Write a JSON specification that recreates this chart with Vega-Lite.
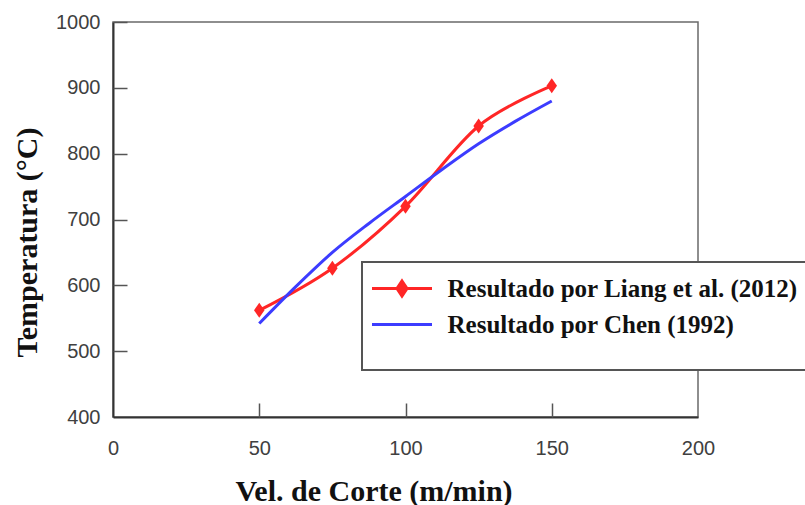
{
  "$schema": "https://vega.github.io/schema/vega-lite/v6.json",
  "width": 585,
  "height": 395,
  "autosize": {"type": "none"},
  "padding": {"left": 113, "top": 22, "right": 107, "bottom": 88},
  "background": "white",
  "config": {"view": {"stroke": "#6a6a6a", "strokeWidth": 1.5}},
  "data": {
    "values": [
      {"vel": 50, "temp": 562, "serie": "Resultado por Liang et al. (2012)"},
      {"vel": 75, "temp": 626, "serie": "Resultado por Liang et al. (2012)"},
      {"vel": 100, "temp": 720, "serie": "Resultado por Liang et al. (2012)"},
      {"vel": 125, "temp": 842, "serie": "Resultado por Liang et al. (2012)"},
      {"vel": 150, "temp": 903, "serie": "Resultado por Liang et al. (2012)"},
      {"vel": 50, "temp": 542, "serie": "Resultado por Chen (1992)"},
      {"vel": 62.5, "temp": 598, "serie": "Resultado por Chen (1992)"},
      {"vel": 75, "temp": 650, "serie": "Resultado por Chen (1992)"},
      {"vel": 87.5, "temp": 694, "serie": "Resultado por Chen (1992)"},
      {"vel": 100, "temp": 735, "serie": "Resultado por Chen (1992)"},
      {"vel": 112.5, "temp": 776, "serie": "Resultado por Chen (1992)"},
      {"vel": 125, "temp": 815, "serie": "Resultado por Chen (1992)"},
      {"vel": 137.5, "temp": 849, "serie": "Resultado por Chen (1992)"},
      {"vel": 150, "temp": 880, "serie": "Resultado por Chen (1992)"}
    ]
  },
  "resolve": {"axis": {"x": "independent", "y": "independent"}},
  "layer": [
    {
      "mark": {"type": "line", "interpolate": "cardinal", "strokeWidth": 3},
      "encoding": {
        "x": {
          "field": "vel",
          "type": "quantitative",
          "scale": {"domain": [0, 200], "nice": false},
          "axis": {
            "orient": "bottom",
            "values": [0, 50, 100, 150, 200],
            "format": "d",
            "grid": false,
            "ticks": false,
            "domainColor": "#333",
            "domainWidth": 2,
            "labelFont": "Liberation Sans",
            "labelFontSize": 20,
            "labelColor": "#404040",
            "labelPadding": 21,
            "labelFlush": false,
            "title": "Vel. de Corte (m/min)",
            "titleFont": "Liberation Serif",
            "titleFontSize": 30,
            "titleFontWeight": "bold",
            "titleColor": "#111",
            "titleX": 260.5,
            "titleY": 83,
            "titleAlign": "center",
            "titleBaseline": "alphabetic"
          }
        },
        "y": {
          "field": "temp",
          "type": "quantitative",
          "scale": {"domain": [400, 1000], "nice": false, "zero": false},
          "axis": {
            "orient": "left",
            "values": [400, 500, 600, 700, 800, 900, 1000],
            "format": "d",
            "grid": false,
            "ticks": false,
            "domainColor": "#333",
            "domainWidth": 2,
            "labelFont": "Liberation Sans",
            "labelFontSize": 20,
            "labelColor": "#404040",
            "labelPadding": 13,
            "labelFlush": false,
            "title": "Temperatura (°C)",
            "titleFont": "Liberation Serif",
            "titleFontSize": 30,
            "titleFontWeight": "bold",
            "titleColor": "#111",
            "titleAngle": -90,
            "titleX": -86,
            "titleY": 220,
            "titleAlign": "center",
            "titleBaseline": "middle"
          }
        },
        "color": {
          "field": "serie",
          "type": "nominal",
          "scale": {
            "domain": ["Resultado por Liang et al. (2012)", "Resultado por Chen (1992)"],
            "range": ["#ff2626", "#3c3cff"]
          },
          "legend": {
            "orient": "none",
            "legendX": 249,
            "legendY": 240,
            "title": " ",
            "titleOrient": "bottom",
            "titleFontSize": 10,
            "titlePadding": 8,
            "padding": 14,
            "fillColor": "white",
            "strokeColor": "#555",
            "labelFont": "Liberation Serif",
            "labelFontWeight": "bold",
            "labelFontSize": 25,
            "labelColor": "#111",
            "labelLimit": 600,
            "labelOffset": 33,
            "symbolOffset": 13.5,
            "symbolSize": 400,
            "symbolStrokeWidth": 3,
            "rowPadding": 10,
            "encode": {
              "legend": {"update": {"strokeWidth": {"value": 2}}},
              "symbols": {
                "update": {
                  "shape": {"signal": "datum.value === 'Resultado por Liang et al. (2012)' ? 'M-3,0H3M0,-0.75L0.5,0L0,0.75L-0.5,0Z' : 'M-3,0H3'"},
                  "fill": {"signal": "datum.value === 'Resultado por Liang et al. (2012)' ? '#ff2626' : 'transparent'"}
                }
              }
            }
          }
        }
      }
    },
    {
      "transform": [{"filter": "datum.serie === 'Resultado por Liang et al. (2012)'"}],
      "mark": {
        "type": "point",
        "shape": "M0,-1L0.7,0L0,1L-0.7,0Z",
        "filled": true,
        "size": 225,
        "color": "#ff2626",
        "opacity": 1
      },
      "encoding": {
        "x": {
          "field": "vel",
          "type": "quantitative",
          "axis": {
            "orient": "top",
            "offset": -395,
            "values": [50, 100, 150],
            "grid": false,
            "domain": false,
            "labels": false,
            "title": null,
            "ticks": true,
            "tickSize": 14,
            "tickColor": "#555",
            "tickWidth": 1.5
          }
        },
        "y": {
          "field": "temp",
          "type": "quantitative",
          "axis": {
            "orient": "right",
            "offset": -585,
            "values": [500, 600, 700, 800, 900, 1000],
            "grid": false,
            "domain": false,
            "labels": false,
            "title": null,
            "ticks": true,
            "tickSize": 14,
            "tickColor": "#555",
            "tickWidth": 1.5
          }
        }
      }
    }
  ]
}
